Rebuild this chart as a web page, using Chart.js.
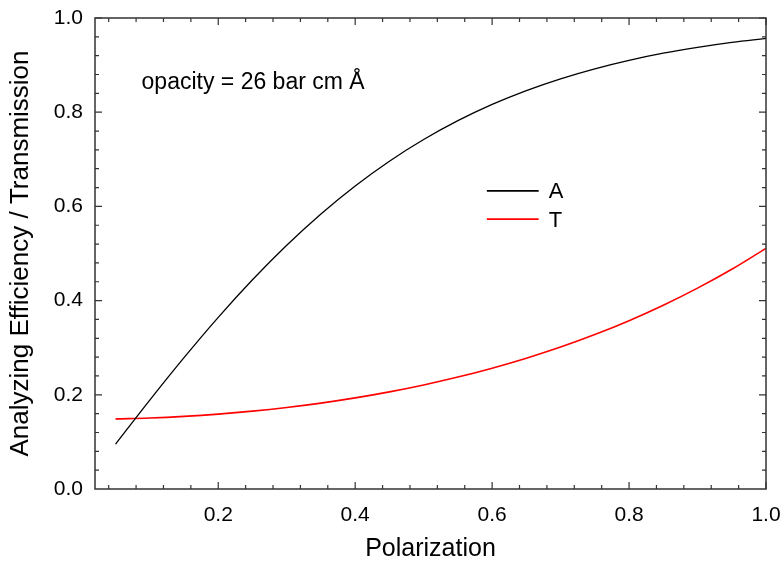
<!DOCTYPE html>
<html>
<head>
<meta charset="utf-8">
<script src="https://cdn.jsdelivr.net/npm/chart.js@4"></script>
<style>
  html, body { margin: 0; padding: 0; background: #fff; }
  #chart { display: block; }
</style>
</head>
<body>
<canvas id="chart" width="784" height="562"></canvas>
<script>
// values
const polarization = [0.05, 0.10, 0.15, 0.20, 0.25, 0.30, 0.35, 0.40, 0.45, 0.50,
                      0.55, 0.60, 0.65, 0.70, 0.75, 0.80, 0.85, 0.90, 0.95, 1.00]
const efficiencyA = [0.0952, 0.1887, 0.2789, 0.3645, 0.4442, 0.5175, 0.5840, 0.6434, 0.6960, 0.7420,
                     0.7820, 0.8166, 0.8460, 0.8710, 0.8922, 0.9101, 0.9252, 0.9377, 0.9483, 0.9568]
const transmissionT = [0.1488, 0.1508, 0.1542, 0.1590, 0.1653, 0.1731, 0.1824, 0.1934, 0.2062, 0.2209,
                       0.2376, 0.2565, 0.2777, 0.3013, 0.3278, 0.3573, 0.3901, 0.4264, 0.4665, 0.5110]
const xTicks = [0.2, 0.4, 0.6, 0.8, 1.0]
const yTicks = [0.0, 0.2, 0.4, 0.6, 0.8, 1.0]
const seriesLabels = ['A', 'T']
const note = 'opacity = 26 bar cm Å'

const FONT = "'Liberation Sans', Arial, sans-serif"
Chart.defaults.font.family = FONT
Chart.defaults.color = '#000'

const toPoints = (ys) => polarization.map((p, i) => ({ x: p, y: ys[i] }))

// frame with inward major/minor ticks on all four sides
const framePlugin = {
  id: 'frame',
  afterDraw(chart) {
    const { ctx, chartArea: a, scales: { x, y } } = chart
    ctx.save()
    ctx.strokeStyle = '#333'
    ctx.lineWidth = 1.5
    ctx.strokeRect(a.left, a.top, a.right - a.left, a.bottom - a.top)
    ctx.lineWidth = 1.2
    ctx.beginPath()
    for (let k = 1; k <= 25; k++) {
      const len = k % 5 === 0 ? 7 : 4
      const v = k * 0.04
      const px = x.getPixelForValue(v)
      if (px >= a.left && px <= a.right) {
        ctx.moveTo(px, a.bottom); ctx.lineTo(px, a.bottom - len)
        ctx.moveTo(px, a.top); ctx.lineTo(px, a.top + len)
      }
      const py = y.getPixelForValue(v)
      if (py >= a.top && py <= a.bottom) {
        ctx.moveTo(a.left, py); ctx.lineTo(a.left + len, py)
        ctx.moveTo(a.right, py); ctx.lineTo(a.right - len, py)
      }
    }
    ctx.stroke()
    ctx.restore()
  }
}

// legend and note drawn inside the plot
const notesPlugin = {
  id: 'notes',
  afterDatasetsDraw(chart) {
    const { ctx, scales: { x, y } } = chart
    ctx.save()
    ctx.fillStyle = '#000'
    ctx.font = '23px ' + FONT
    ctx.textAlign = 'left'
    ctx.textBaseline = 'alphabetic'
    ctx.fillText(note, x.getPixelForValue(0.088), y.getPixelForValue(0.8486))

    ctx.font = '22px ' + FONT
    const rows = [0.633, 0.573]
    chart.data.datasets.forEach((ds, i) => {
      const py = y.getPixelForValue(rows[i])
      ctx.strokeStyle = ds.borderColor
      ctx.lineWidth = 1.6
      ctx.beginPath()
      ctx.moveTo(x.getPixelForValue(0.5923), py)
      ctx.lineTo(x.getPixelForValue(0.668), py)
      ctx.stroke()
      ctx.fillText(ds.label, x.getPixelForValue(0.6826), py + 7.6)
    })
    ctx.restore()
  }
}

new Chart(document.getElementById('chart'), {
  type: 'line',
  data: {
    datasets: [
      { label: seriesLabels[0], data: toPoints(efficiencyA), borderColor: '#000', borderWidth: 1.3 },
      { label: seriesLabels[1], data: toPoints(transmissionT), borderColor: '#ff0000', borderWidth: 1.6 }
    ]
  },
  options: {
    responsive: false,
    animation: false,
    events: [],
    layout: { padding: { top: 18, right: 18, left: 0, bottom: 0 } },
    elements: { point: { radius: 0 }, line: { tension: 0.4 } },
    plugins: { legend: { display: false }, tooltip: { enabled: false } },
    scales: {
      x: {
        type: 'linear',
        min: 0.02,
        max: 1.0,
        afterBuildTicks: (s) => { s.ticks = xTicks.map(v => ({ value: v })) },
        afterFit: (s) => { s.height = 73; s.paddingLeft = 0; s.paddingRight = 0 },
        grid: { display: false, drawTicks: false },
        border: { display: false },
        ticks: { font: { size: 21 }, padding: 14, maxRotation: 0, callback: (v) => v.toFixed(1) },
        title: { display: true, text: 'Polarization', font: { size: 25, lineHeight: 1 }, padding: 0 }
      },
      y: {
        type: 'linear',
        min: 0,
        max: 1,
        afterBuildTicks: (s) => { s.ticks = yTicks.map(v => ({ value: v })) },
        afterFit: (s) => { s.width = 95; s.paddingTop = 0; s.paddingBottom = 0 },
        grid: { display: false, drawTicks: false },
        border: { display: false },
        ticks: { font: { size: 21 }, padding: 12, callback: (v) => v.toFixed(1) },
        title: { display: true, text: 'Analyzing Efficiency / Transmission', font: { size: 26, lineHeight: 1 }, padding: { top: 8, bottom: 0 } }
      }
    }
  },
  plugins: [framePlugin, notesPlugin]
})
</script>
</body>
</html>
